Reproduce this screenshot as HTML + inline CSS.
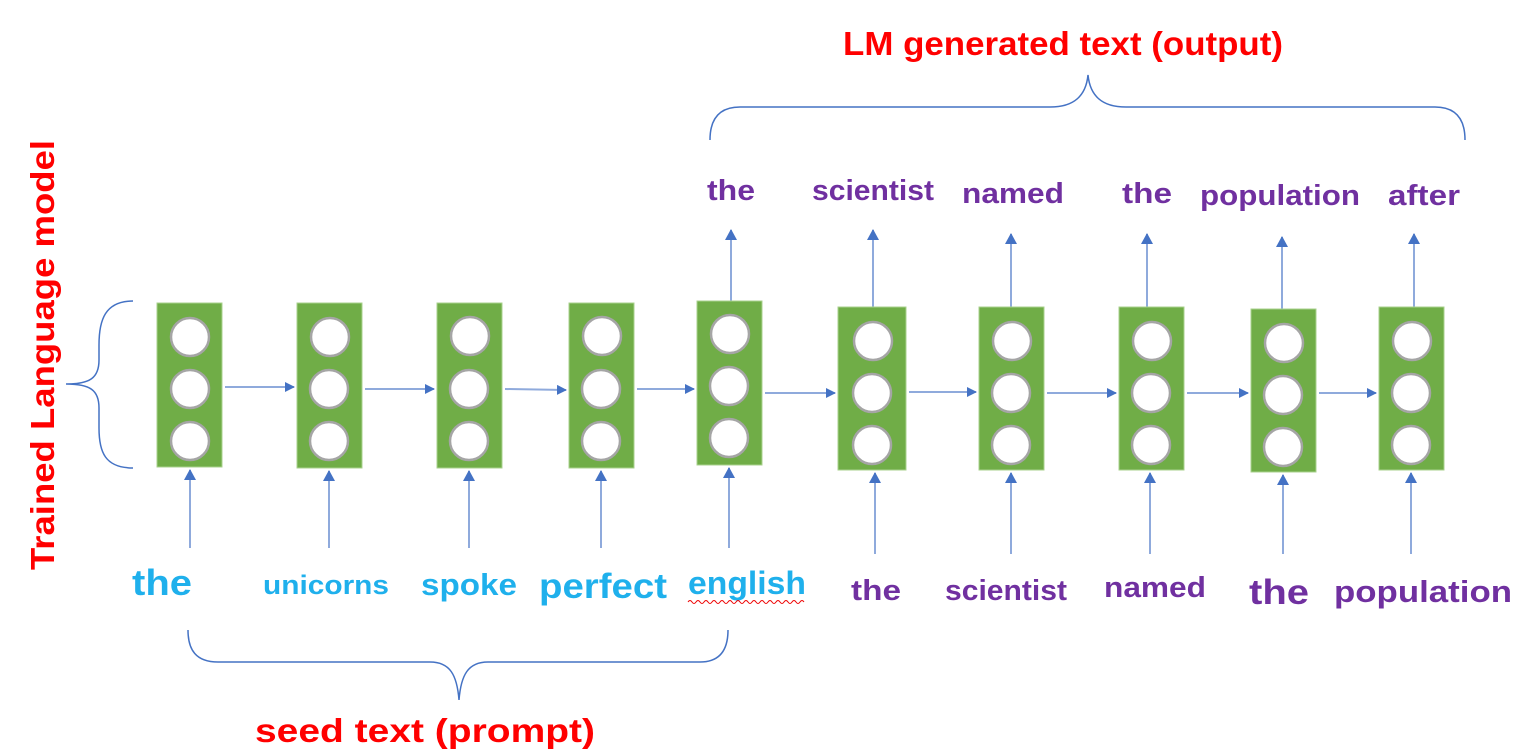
<!DOCTYPE html>
<html><head><meta charset="utf-8"><style>html,body{margin:0;padding:0;background:#fff}svg{display:block}</style></head><body>
<svg width="1528" height="756" viewBox="0 0 1528 756" xmlns="http://www.w3.org/2000/svg" font-family="Liberation Sans, sans-serif" font-weight="bold">
<defs><marker id="a" markerWidth="10" markerHeight="10" refX="9" refY="5" orient="auto" markerUnits="userSpaceOnUse"><path d="M0,0 L10,5 L0,10 z" fill="#4472c4"/></marker>
<marker id="u" markerWidth="12" markerHeight="12" refX="6" refY="1" orient="0" markerUnits="userSpaceOnUse"><path d="M0,11 L6,0 L12,11 z" fill="#4472c4"/></marker></defs>
<g stroke="#8faadc" stroke-width="2" fill="none">
<!-- horizontal arrows -->
<line x1="225" y1="387" x2="294" y2="387" marker-end="url(#a)"/>
<line x1="365" y1="389" x2="434" y2="389" marker-end="url(#a)"/>
<line x1="505" y1="389" x2="566" y2="390" marker-end="url(#a)"/>
<line x1="637" y1="389" x2="694" y2="389" marker-end="url(#a)"/>
<line x1="765" y1="393" x2="835" y2="393" marker-end="url(#a)"/>
<line x1="909" y1="392" x2="976" y2="392" marker-end="url(#a)"/>
<line x1="1047" y1="393" x2="1116" y2="393" marker-end="url(#a)"/>
<line x1="1187" y1="393" x2="1248" y2="393" marker-end="url(#a)"/>
<line x1="1319" y1="393" x2="1376" y2="393" marker-end="url(#a)"/>
<!-- up arrows from below -->
<line x1="190" y1="548" x2="190" y2="470" marker-end="url(#u)"/>
<line x1="329" y1="548" x2="329" y2="471" marker-end="url(#u)"/>
<line x1="469" y1="548" x2="469" y2="471" marker-end="url(#u)"/>
<line x1="601" y1="548" x2="601" y2="471" marker-end="url(#u)"/>
<line x1="729" y1="548" x2="729" y2="468" marker-end="url(#u)"/>
<line x1="875" y1="554" x2="875" y2="473" marker-end="url(#u)"/>
<line x1="1011" y1="554" x2="1011" y2="473" marker-end="url(#u)"/>
<line x1="1150" y1="554" x2="1150" y2="473" marker-end="url(#u)"/>
<line x1="1283" y1="554" x2="1283" y2="475" marker-end="url(#u)"/>
<line x1="1411" y1="554" x2="1411" y2="473" marker-end="url(#u)"/>
<!-- up arrows to top -->
<line x1="731" y1="307" x2="731" y2="230" marker-end="url(#u)"/>
<line x1="873" y1="308" x2="873" y2="230" marker-end="url(#u)"/>
<line x1="1011" y1="308" x2="1011" y2="234" marker-end="url(#u)"/>
<line x1="1147" y1="308" x2="1147" y2="234" marker-end="url(#u)"/>
<line x1="1282" y1="310" x2="1282" y2="237" marker-end="url(#u)"/>
<line x1="1414" y1="308" x2="1414" y2="234" marker-end="url(#u)"/>
</g>
<g fill="#70ad47" stroke="#a9d18e" stroke-width="1">
<rect x="157" y="303" width="65" height="164"/>
<rect x="297" y="303" width="65" height="165"/>
<rect x="437" y="303" width="65" height="165"/>
<rect x="569" y="303" width="65" height="165"/>
<rect x="697" y="301" width="65" height="164"/>
<rect x="838" y="307" width="68" height="163"/>
<rect x="979" y="307" width="65" height="163"/>
<rect x="1119" y="307" width="65" height="163"/>
<rect x="1251" y="309" width="65" height="163"/>
<rect x="1379" y="307" width="65" height="163"/>
</g>
<g fill="#fff" stroke="#a5a5a5" stroke-width="2.5">
<circle cx="190" cy="337" r="19"/><circle cx="190" cy="389" r="19"/><circle cx="190" cy="441" r="19"/>
<circle cx="330" cy="337" r="19"/><circle cx="329" cy="389" r="19"/><circle cx="329" cy="441" r="19"/>
<circle cx="470" cy="336" r="19"/><circle cx="469" cy="389" r="19"/><circle cx="469" cy="441" r="19"/>
<circle cx="602" cy="336" r="19"/><circle cx="601" cy="389" r="19"/><circle cx="601" cy="441" r="19"/>
<circle cx="730" cy="334" r="19"/><circle cx="729" cy="386" r="19"/><circle cx="729" cy="438" r="19"/>
<circle cx="873" cy="341" r="19"/><circle cx="872" cy="393" r="19"/><circle cx="872" cy="445" r="19"/>
<circle cx="1012" cy="341" r="19"/><circle cx="1011" cy="393" r="19"/><circle cx="1011" cy="445" r="19"/>
<circle cx="1152" cy="341" r="19"/><circle cx="1151" cy="393" r="19"/><circle cx="1151" cy="445" r="19"/>
<circle cx="1284" cy="343" r="19"/><circle cx="1283" cy="395" r="19"/><circle cx="1283" cy="447" r="19"/>
<circle cx="1412" cy="341" r="19"/><circle cx="1411" cy="393" r="19"/><circle cx="1411" cy="445" r="19"/>
</g>
<!-- braces -->
<g stroke="#4472c4" stroke-width="1.5" fill="none">
<path d="M133,301 C105,301 99,320 99,345 L99,360 C99,378 90,384 66,384 C90,384 99,390 99,408 L99,428 C99,452 105,468 133,468"/>
<path d="M710,140 C710,120 718,107 740,107 L1050,107 C1075,107 1086,95 1088,75 C1090,95 1101,107 1126,107 L1435,107 C1457,107 1465,120 1465,140"/>
<path d="M188,630 C188,650 196,662 218,662 L430,662 C450,662 457,675 459,700 C461,675 468,662 488,662 L700,662 C720,662 728,650 728,630"/>
</g>
<g fill="#ff0000" font-size="33">
<text x="1063" y="55" text-anchor="middle" textLength="440" lengthAdjust="spacingAndGlyphs">LM generated text (output)</text>
<text x="425" y="742" text-anchor="middle" textLength="340" lengthAdjust="spacingAndGlyphs">seed text (prompt)</text>
<text transform="translate(54,355) rotate(-90)" text-anchor="middle" textLength="430" lengthAdjust="spacingAndGlyphs">Trained Language model</text>
</g>
<g fill="#1fb0ec" text-anchor="middle">
<text x="162" y="595" font-size="36" textLength="60" lengthAdjust="spacingAndGlyphs">the</text>
<text x="326" y="594" font-size="27" textLength="126" lengthAdjust="spacingAndGlyphs">unicorns</text>
<text x="469" y="595" font-size="31" textLength="96" lengthAdjust="spacingAndGlyphs">spoke</text>
<text x="603" y="598" font-size="35" textLength="128" lengthAdjust="spacingAndGlyphs">perfect</text>
<text x="747" y="594" font-size="32" textLength="118" lengthAdjust="spacingAndGlyphs">english</text>
</g>
<path d="M688,602 q2,-3 4,0 t4,0 t4,0 t4,0 t4,0 t4,0 t4,0 t4,0 t4,0 t4,0 t4,0 t4,0 t4,0 t4,0 t4,0 t4,0 t4,0 t4,0 t4,0 t4,0 t4,0 t4,0 t4,0 t4,0 t4,0 t4,0 t4,0 t4,0 t4,0" stroke="#e00" stroke-width="1" fill="none"/>
<g fill="#7030a0" text-anchor="middle">
<text x="876" y="600" font-size="29" textLength="50" lengthAdjust="spacingAndGlyphs">the</text>
<text x="1006" y="600" font-size="29" textLength="122" lengthAdjust="spacingAndGlyphs">scientist</text>
<text x="1155" y="597" font-size="29" textLength="102" lengthAdjust="spacingAndGlyphs">named</text>
<text x="1279" y="604" font-size="35" textLength="60" lengthAdjust="spacingAndGlyphs">the</text>
<text x="1423" y="602" font-size="31" textLength="178" lengthAdjust="spacingAndGlyphs">population</text>
<text x="731" y="200" font-size="29" textLength="48" lengthAdjust="spacingAndGlyphs">the</text>
<text x="873" y="200" font-size="29" textLength="122" lengthAdjust="spacingAndGlyphs">scientist</text>
<text x="1013" y="203" font-size="29" textLength="102" lengthAdjust="spacingAndGlyphs">named</text>
<text x="1147" y="203" font-size="29" textLength="50" lengthAdjust="spacingAndGlyphs">the</text>
<text x="1280" y="205" font-size="29" textLength="160" lengthAdjust="spacingAndGlyphs">population</text>
<text x="1424" y="205" font-size="29" textLength="72" lengthAdjust="spacingAndGlyphs">after</text>
</g>
</svg>
</body></html>
